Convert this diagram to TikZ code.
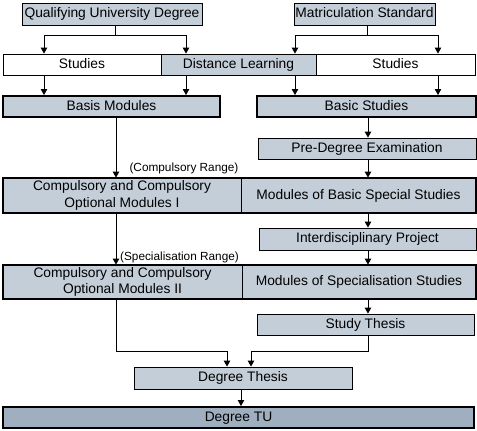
\documentclass[tikz,border=0pt]{standalone}
\usepackage{fontspec}
\setmainfont{Liberation Sans}
\usetikzlibrary{arrows.meta}
\definecolor{boxfill}{RGB}{196,206,216}
\definecolor{tufill}{RGB}{160,175,192}
\begin{document}
\begin{tikzpicture}[x=1pt,y=-1pt,
  every node/.style={font=\fontsize{13.8}{16.8}\selectfont, inner sep=0pt, align=center},
  oneline/.style={text height=0.74em, text depth=0.04em},
  thinbox/.style={draw, line width=0.8pt, fill=boxfill, rectangle},
  whitebox/.style={draw, line width=0.8pt, fill=white, rectangle},
  thickbox/.style={draw, line width=2pt, fill=boxfill, rectangle},
  rowframe/.style={draw, line width=2pt},
  lbl/.style={font=\fontsize{11.8}{13}\selectfont},
  conn/.style={line width=0.8pt},
  arr/.style={line width=0.8pt, -{Triangle[length=6pt,width=6.5pt]}}]
\useasboundingbox (0,0) rectangle (477,431);

% top sources
\node[thinbox, oneline, minimum width=180pt, minimum height=22pt] (qud) at (112,14) {Qualifying University Degree};
\node[thinbox, oneline, minimum width=141pt, minimum height=22pt] (ms) at (364.5,14) {Matriculation Standard};

% studies row
\node[whitebox, oneline, minimum width=158pt, minimum height=21pt] (sl) at (82,64.5) {Studies};
\node[thinbox, oneline, minimum width=155pt, minimum height=21pt] (dl) at (238.5,64.5) {Distance Learning};
\node[whitebox, oneline, minimum width=159pt, minimum height=21pt] (sr) at (395.5,64.5) {Studies};

% basis rows
\node[thickbox, oneline, minimum width=217pt, minimum height=21pt] (bm) at (111.5,106.5) {Basis Modules};
\node[thickbox, oneline, minimum width=219pt, minimum height=21pt] (bs) at (366.5,106.5) {Basic Studies};

\node[thinbox, oneline, minimum width=218pt, minimum height=21pt] (pde) at (367,148.5) {Pre-Degree Examination};

% compulsory I row
\node[thinbox, minimum width=238pt, minimum height=35pt] (co1) at (122,195.5) {Compulsory and Compulsory\\Optional Modules I};
\node[thinbox, oneline, minimum width=235pt, minimum height=35pt] (mbs) at (358.5,195.5) {Modules of Basic Special Studies};
\draw[rowframe] (co1.north west) rectangle (mbs.south east);

\node[thinbox, oneline, minimum width=217pt, minimum height=22pt] (ip) at (367.5,239) {Interdisciplinary Project};

% compulsory II row
\node[thinbox, minimum width=239pt, minimum height=34pt] (co2) at (122.5,282) {Compulsory and Compulsory\\Optional Modules II};
\node[thinbox, oneline, minimum width=234pt, minimum height=34pt] (mss) at (359,282) {Modules of Specialisation Studies};
\draw[rowframe] (co2.north west) rectangle (mss.south east);

\node[thinbox, oneline, minimum width=217pt, minimum height=21pt] (st) at (365.5,324.5) {Study Thesis};
\node[thinbox, oneline, minimum width=218pt, minimum height=22pt] (dt) at (243,378) {Degree Thesis};
\node[draw, oneline, line width=2pt, fill=tufill, minimum width=471pt, minimum height=21pt] (tu) at (238.5,417.5) {Degree TU};

% labels
\node[lbl] (lcr) at (184,168.5) {(Compulsory Range)};
\node[lbl] (lsr) at (179.5,257) {(Specialisation Range)};

% columns
\coordinate (c1) at (44,0);
\coordinate (c2) at (186,0);
\coordinate (c3) at (295,0);
\coordinate (c4) at (438,0);
\coordinate (cm) at (368,0);
\coordinate (cl) at (116,0);
\coordinate (ce) at (241,0);
\coordinate (d1) at (227,0);
\coordinate (d2) at (251,0);
\coordinate (cq) at (115,35);
\coordinate (cs) at (367,35);
\coordinate (k1) at (116,351);
\coordinate (k2) at (368,351);

% connectors
\draw[conn] (qud.south -| cq) -- (cq);
\draw[arr] (cq) -| (sl.north -| c1);
\draw[arr] (cq) -| (dl.north -| c2);
\draw[conn] (ms.south -| cs) -- (cs);
\draw[arr] (cs) -| (dl.north -| c3);
\draw[arr] (cs) -| (sr.north -| c4);
\draw[arr] (sl.south -| c1) -- (bm.north -| c1);
\draw[arr] (dl.south -| c2) -- (bm.north -| c2);
\draw[arr] (dl.south -| c3) -- (bs.north -| c3);
\draw[arr] (sr.south -| c4) -- (bs.north -| c4);
\draw[arr] (bs.south -| cm) -- (pde.north -| cm);
\draw[arr] (pde.south -| cm) -- (mbs.north -| cm);
\draw[arr] (mbs.south -| cm) -- (ip.north -| cm);
\draw[arr] (ip.south -| cm) -- (mss.north -| cm);
\draw[arr] (mss.south -| cm) -- (st.north -| cm);
\draw[arr] (bm.south -| cl) -- (co1.north -| cl);
\draw[arr] (co1.south -| cl) -- (co2.north -| cl);
\draw[arr] (co2.south -| k1) -- (k1) -| (dt.north -| d1);
\draw[arr] (st.south -| k2) -- (k2) -| (dt.north -| d2);
\draw[arr] (dt.south -| ce) -- (tu.north -| ce);
\end{tikzpicture}
\end{document}
